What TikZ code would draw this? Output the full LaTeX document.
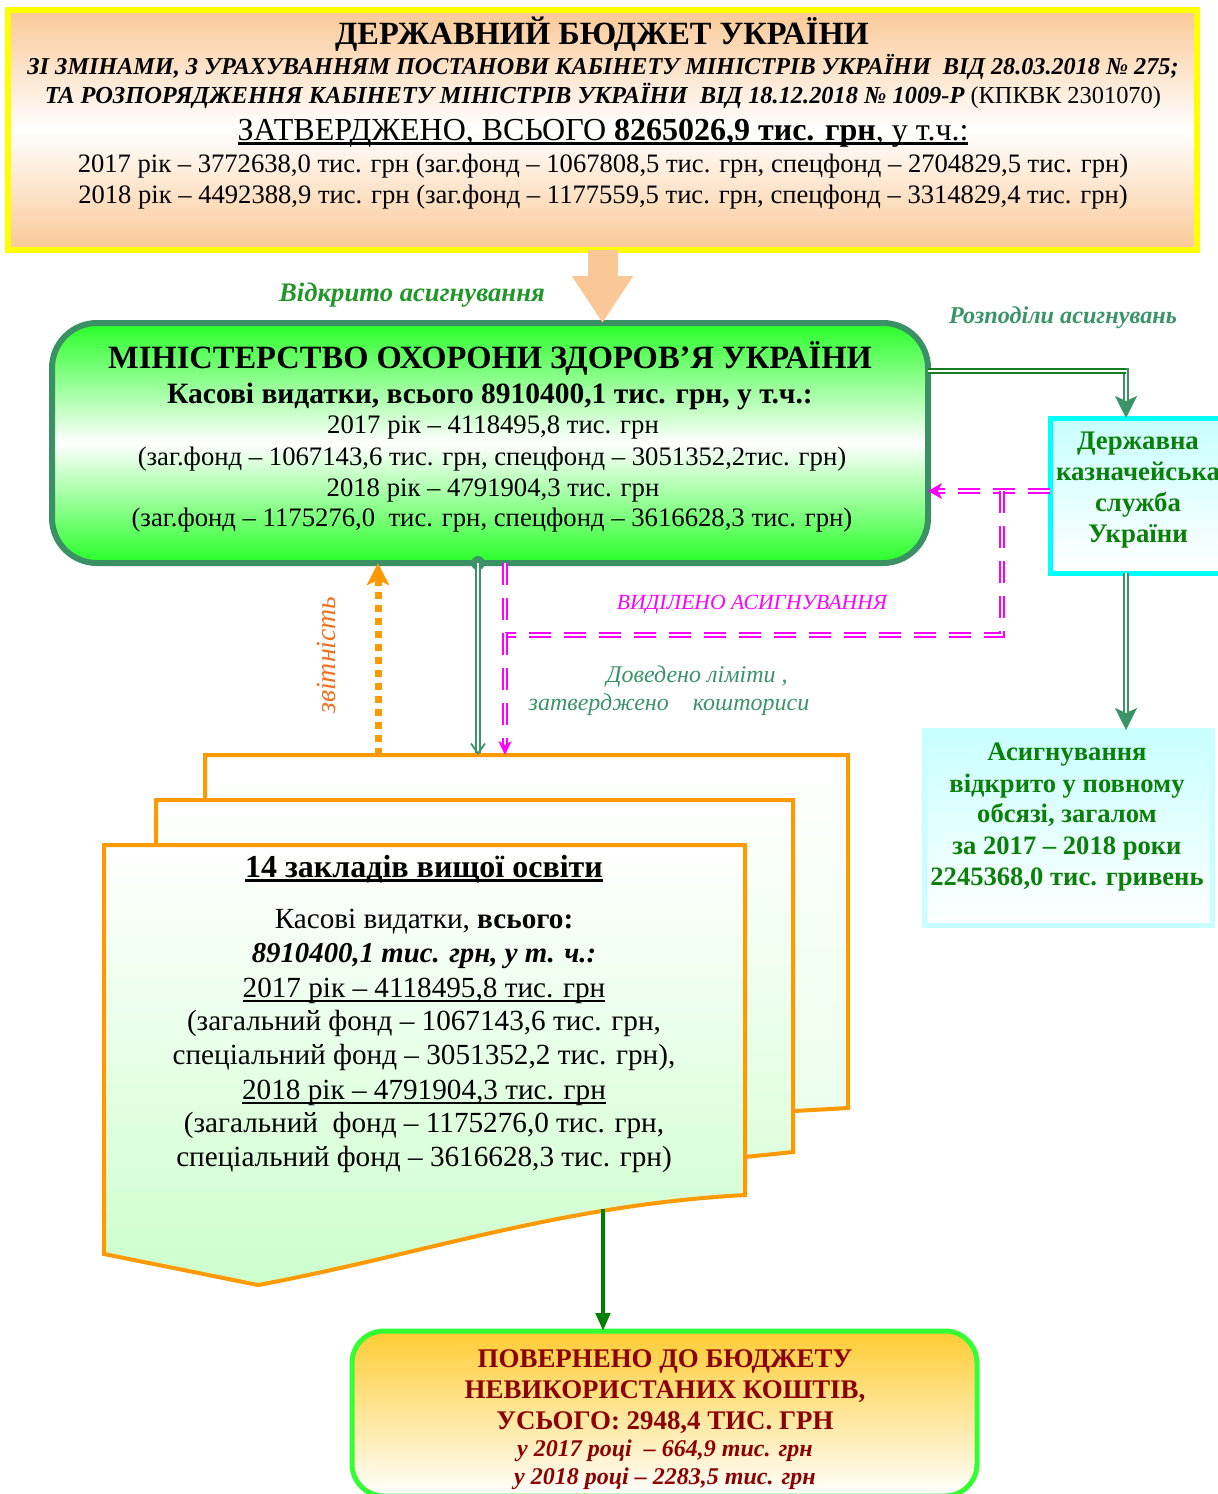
\documentclass[tikz,border=0pt]{standalone}
\usepackage{fontspec}
\setmainfont{Liberation Serif}
\usetikzlibrary{arrows.meta}
\definecolor{peach}{RGB}{250,200,150}
\definecolor{bordyellow}{RGB}{255,255,0}
\definecolor{minborder}{RGB}{58,145,100}
\definecolor{brightgreen}{RGB}{40,255,40}
\definecolor{seag}{RGB}{58,148,104}
\definecolor{dkgreen}{RGB}{10,128,10}
\definecolor{lblgreen}{RGB}{34,150,42}
\definecolor{mag}{RGB}{255,0,255}
\definecolor{orng}{RGB}{255,153,0}
\definecolor{orntext}{RGB}{240,112,32}
\definecolor{cyanb}{RGB}{0,255,255}
\definecolor{lcyan}{RGB}{200,255,255}
\definecolor{lgreen}{RGB}{204,255,204}
\definecolor{gold}{RGB}{255,204,51}
\definecolor{dred}{RGB}{139,0,0}
\definecolor{retgreen}{RGB}{51,255,51}
\definecolor{arrgreen}{RGB}{0,128,0}
\definecolor{hgreen}{RGB}{20,125,30}
\newcommand\myfs[1]{\fontsize{#1}{#1}\selectfont}
\newcommand\myul[2][1.6pt]{\leavevmode\setbox0\hbox{#2}\rlap{\rule[-4.5pt]{\wd0}{#1}}\box0}
\begin{document}
\begin{tikzpicture}[x=1pt,y=-1pt,
  txt/.style={inner sep=0pt,outer sep=0pt,anchor=base},
  boxbase/.style={inner sep=0pt,outer sep=0pt,rectangle},
  sgdouble/.style={draw=seag,line width=1.8pt,double=white,double distance=2.4pt},
  hgdouble/.style={draw=hgreen,line width=1.8pt,double=white,double distance=2.4pt},
  magdouble/.style={draw=mag,line width=1.6pt,double=white,double distance=2.4pt,dash pattern=on 22pt off 13pt},
  docline/.style={draw=orng,line width=4pt,line join=miter}]
\clip (0,0) rectangle (1218,1494);
\fill[white] (0,0) rectangle (1218,1494);

% ---------- boxes ----------
\node[boxbase,draw=bordyellow,line width=6pt,minimum width=1189pt,minimum height=240pt,
  top color=peach,bottom color=peach,middle color=white] (top) at (602.5,130) {};
\node[boxbase,draw=minborder,line width=6pt,rounded corners=45pt,minimum width=876pt,minimum height=240pt,
  top color=brightgreen,bottom color=brightgreen,middle color=white] (min) at (490,443) {};
\node[boxbase,draw=cyanb,line width=5pt,minimum width=176pt,minimum height=155pt,
  top color=lcyan,bottom color=white] (treas) at (1138,495.5) {};
\node[boxbase,draw=lcyan,line width=5pt,minimum width=288pt,minimum height=195pt,
  top color=lcyan,bottom color=white] (asig) at (1068,827.5) {};
\node[boxbase,draw=retgreen,line width=5pt,rounded corners=32pt,minimum width=625pt,minimum height=165pt,
  top color=gold,bottom color=white] (ret) at (664.5,1413.5) {};

% ---------- document stack ----------
\coordinate (backtop) at (526,755);
\filldraw[docline,top color=white,bottom color=lgreen!40] (205,755) -- (848,755) -- (848,1108) -- (794,1111) -- (700,1130) -- (205,1130) -- cycle;
\filldraw[docline,top color=white,bottom color=lgreen!70] (156,800) -- (793,800) -- (793,1152) -- (745,1157) -- (600,1180) -- (156,1180) -- cycle;
\filldraw[docline,top color=white,bottom color=lgreen] (104,845) -- (745,845) -- (745,1195)
   .. controls (560,1205) and (420,1255) .. (258,1285) -- (104,1254) -- cycle;
\coordinate (docbot) at (603,1209);

% ---------- connectors ----------
\draw[peach,line width=30pt,-{Triangle[length=47pt,width=58pt]}] (top.south) -- (top.south |- min.north);
\coordinate (rc) at (1126,371);
\draw[sgdouble,-{Stealth[length=22pt,width=22pt,inset=5pt]}] (min.east |- rc) -| (rc |- treas.north);
\draw[hgdouble] (min.east |- rc) -- (rc);
\draw[sgdouble,-{Stealth[length=22pt,width=22pt,inset=5pt]}] (rc |- treas.south) -- (rc |- asig.north);
\coordinate (mj) at (1002,491);
\coordinate (mk) at (505,635);
\draw[magdouble,-{Stealth[length=14pt,width=16pt,inset=4pt]}] (treas.west |- mj) -- (min.east |- mj);
\draw[magdouble] (mj) |- (mk);
\draw[magdouble,-{Stealth[length=14pt,width=13pt,inset=4pt]}] (mk |- min.south) -- (mk |- backtop);
\coordinate (gd) at (478,563);
\fill[seag] (gd |- min.south) circle (7pt);
\draw[sgdouble,-{Straight Barb[length=10pt,width=14pt]}] (gd |- min.south) -- (gd |- backtop);
\coordinate (od) at (378,563);
\draw[orng,line width=7pt,dash pattern=on 7pt off 6pt,-{Stealth[length=22pt,width=22pt,inset=5pt]}] (od |- backtop) -- (od |- min.south);
\draw[arrgreen,line width=4.5pt,-{Triangle[length=18pt,width=14pt]}] (docbot) -- (docbot |- ret.north);

% ---------- top box text ----------
\node[txt] (t1) at (602,44) {\myfs{32.4}\bfseries ДЕРЖАВНИЙ БЮДЖЕТ УКРАЇНИ};
\node[txt] (t2) at (603,74) {\myfs{24.2}\bfseries\itshape ЗІ ЗМІНАМИ, З УРАХУВАННЯМ ПОСТАНОВИ КАБІНЕТУ МІНІСТРІВ УКРАЇНИ\ \ ВІД 28.03.2018 № 275;};
\node[txt] (t3) at (603,103) {\myfs{24.4}{\bfseries\itshape ТА РОЗПОРЯДЖЕННЯ КАБІНЕТУ МІНІСТРІВ УКРАЇНИ\ \ ВІД 18.12.2018 № 1009-Р} (КПКВК 2301070)};
\node[txt] (t4) at (603,140) {\myfs{32}\myul[2.6pt]{ЗАТВЕРДЖЕНО, ВСЬОГО \textbf{8265026,9 тис. грн}, у т.ч.:}};
\node[txt] (t5) at (603,172) {\myfs{26.6}2017 рік – 3772638,0 тис. грн (заг.фонд – 1067808,5 тис. грн, спецфонд – 2704829,5 тис. грн)};
\node[txt] (t6) at (603,203) {\myfs{26.6}2018 рік – 4492388,9 тис. грн (заг.фонд – 1177559,5 тис. грн, спецфонд – 3314829,4 тис. грн)};

% ---------- ministry text ----------
\node[txt] (m1) at (490,368) {\myfs{32.5}\bfseries МІНІСТЕРСТВО ОХОРОНИ ЗДОРОВ’Я УКРАЇНИ};
\node[txt] (m2) at (490,403) {\myfs{29.5}\bfseries Касові видатки, всього 8910400,1 тис. грн, у т.ч.:};
\node[txt] (m3) at (493,433) {\myfs{26.7}2017 рік – 4118495,8 тис. грн};
\node[txt] (m4) at (492,465) {\myfs{26.7}(заг.фонд – 1067143,6 тис. грн, спецфонд – 3051352,2тис. грн)};
\node[txt] (m5) at (493,496) {\myfs{26.7}2018 рік – 4791904,3 тис. грн};
\node[txt] (m6) at (492,526) {\myfs{26.7}(заг.фонд – 1175276,0\ \ тис. грн, спецфонд – 3616628,3 тис. грн)};

% ---------- treasury / allocation text ----------
\begin{scope}[every node/.append style={text=dkgreen}]
\node[txt] (k1) at (1138,449) {\myfs{26.8}\bfseries Державна};
\node[txt] (k2) at (1138,480) {\myfs{26.8}\bfseries казначейська};
\node[txt] (k3) at (1138,511) {\myfs{26.8}\bfseries служба};
\node[txt] (k4) at (1138,542) {\myfs{26.8}\bfseries України};
\node[txt] (a1) at (1067,760) {\myfs{26.6}\bfseries Асигнування};
\node[txt] (a2) at (1067,792) {\myfs{26.6}\bfseries відкрито у повному};
\node[txt] (a3) at (1067,822) {\myfs{26.6}\bfseries обсязі, загалом};
\node[txt] (a4) at (1067,854) {\myfs{26.6}\bfseries за 2017 – 2018 роки};
\node[txt] (a5) at (1067,885) {\myfs{26.6}\bfseries 2245368,0 тис. гривень};
\end{scope}

% ---------- labels ----------
\node[txt,text=lblgreen] (l1) at (412,301) {\myfs{26.7}\bfseries\itshape Відкрито асигнування};
\node[txt,text=seag] (l2) at (1063,323) {\myfs{24.2}\bfseries\itshape Розподіли асигнувань};
\node[txt,text=mag] (l3) at (752,609) {\myfs{21.6}\itshape ВИДІЛЕНО АСИГНУВАННЯ};
\node[txt,text=seag] (l4) at (697,682) {\myfs{24}\itshape Доведено ліміти ,};
\node[txt,text=seag] (l5) at (669,710) {\myfs{24}\itshape затверджено\quad кошториси};
\node[inner sep=0pt,text=orntext,rotate=90] (l6) at (326,655) {\myfs{27.8}\itshape звітність};

% ---------- front page text ----------
\node[txt] (f1) at (424,877) {\myfs{32}\bfseries\myul[2.6pt]{14 закладів вищої освіти}};
\node[txt] (f2) at (424,928) {\myfs{29.2}Касові видатки, \textbf{всього:}};
\node[txt] (f3) at (424,962) {\myfs{28.8}\bfseries\itshape 8910400,1 тис. грн, у т. ч.:};
\node[txt] (f4) at (424,997) {\myfs{29.2}\myul{2017 рік – 4118495,8 тис. грн}};
\node[txt] (f5) at (424,1030) {\myfs{29.2}(загальний фонд – 1067143,6 тис. грн,};
\node[txt] (f6) at (424,1064) {\myfs{29.2}спеціальний фонд – 3051352,2 тис. грн),};
\node[txt] (f7) at (424,1099) {\myfs{29.2}\myul{2018 рік – 4791904,3 тис. грн}};
\node[txt] (f8) at (424,1132) {\myfs{29.2}(загальний\ \ фонд – 1175276,0 тис. грн,};
\node[txt] (f9) at (424,1166) {\myfs{29.2}спеціальний фонд – 3616628,3 тис. грн)};

% ---------- return box text ----------
\begin{scope}[every node/.append style={text=dred}]
\node[txt] (r1) at (665,1367) {\myfs{26.9}\bfseries ПОВЕРНЕНО ДО БЮДЖЕТУ};
\node[txt] (r2) at (665,1398) {\myfs{26.9}\bfseries НЕВИКОРИСТАНИХ КОШТІВ,};
\node[txt] (r3) at (665,1429) {\myfs{26.9}\bfseries УСЬОГО: 2948,4 ТИС. ГРН};
\node[txt] (r4) at (665,1456) {\myfs{24}\bfseries\itshape у 2017 році\ \ – 664,9 тис. грн};
\node[txt] (r5) at (665,1484) {\myfs{24}\bfseries\itshape у 2018 році – 2283,5 тис. грн};
\end{scope}
\end{tikzpicture}
\end{document}
